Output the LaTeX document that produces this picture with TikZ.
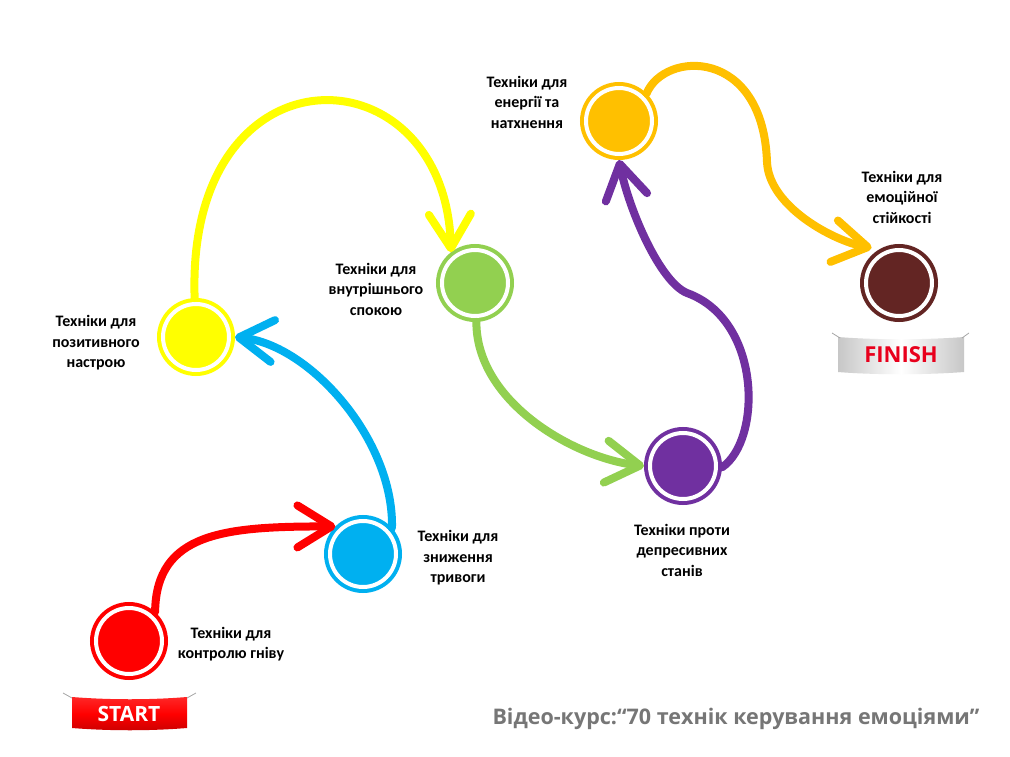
\documentclass[tikz,border=0pt]{standalone}
\usepackage{fontspec}
\setmainfont{Carlito}
\newfontfamily\titlefont{Open Sans}
\newfontfamily\banfont{Open Sans}
\usetikzlibrary{arrows.meta}
\definecolor{cRed}{HTML}{FF0000}
\definecolor{cBlue}{HTML}{00B0F0}
\definecolor{cYellow}{HTML}{FFFF00}
\definecolor{cGreen}{HTML}{92D050}
\definecolor{cPurple}{HTML}{7030A0}
\definecolor{cOrange}{HTML}{FFC000}
\definecolor{cBrown}{HTML}{632523}
\definecolor{cGrayText}{HTML}{767676}
\definecolor{cFinish}{HTML}{E8001C}
\tikzset{
  dot/.style={circle, minimum size=66pt, inner sep=0pt, outer sep=6pt,
    fill=#1, draw=white, line width=4pt, preaction={draw=#1, line width=12pt}},
  lbl/.style={align=center, inner sep=0pt, font=\fontsize{16}{20.5}\selectfont\bfseries},
  link/.style={draw=#1, line width=8pt, line cap=round, line join=round,
    -{Straight Barb[length=34pt, width=42pt, round]}},
  rope/.style={draw=black!35, line width=0.8pt},
}
\begin{document}
\begin{tikzpicture}[x=1pt, y=-1pt]
\useasboundingbox (0,0) rectangle (1010,757);
\fill[white] (0,0) rectangle (1010,757);

% circles
\node[dot=cRed]    (r)  at (129,641) {};
\node[dot=cBlue]   (b)  at (363,554) {};
\node[dot=cYellow] (y)  at (196,337) {};
\node[dot=cGreen]  (g)  at (475,283) {};
\node[dot=cPurple] (p)  at (683,466) {};
\node[dot=cOrange] (o)  at (619,121) {};
\node[dot=cBrown]  (br) at (899,283) {};

% labels
\node[lbl] (lr)  at (231,644) {Техніки для\\контролю гніву};
\node[lbl] (lb)  at (458,558) {Техніки для\\зниження\\тривоги};
\node[lbl] (ly)  at (96,343)  {Техніки для\\позитивного\\настрою};
\node[lbl] (lg)  at (376,289) {Техніки для\\внутрішнього\\спокою};
\node[lbl] (lp)  at (682,550) {Техніки проти\\депресивних\\станів};
\node[lbl] (lo)  at (527,102) {Техніки для\\енергії та\\натхнення};
\node[lbl] (lbr) at (902,197) {Техніки для\\емоційної\\стійкості};

% connectors
\coordinate (pw) at (687,293);
\coordinate (ow) at (767,162);
\draw[link=cRed] (r.48) .. controls +(1,-80) and +(-110,0) .. (b.135);
\draw[link=cBlue] (b.42) .. controls +(2,-88) and +(75,8) .. (y.0);
\draw[link=cYellow] (y.92) .. controls +(-9,-258) and +(-6,-205) .. (g.128);
\draw[link=cGreen] (g.272) .. controls +(0,80) and +(-70,-8) .. (p.180);
\draw[link=cPurple] (p.-2) .. controls +(40,-27) and +(75,27) .. (pw)
   .. controls +(-27,-11) and +(10,50) .. (o.270);
\draw[link=cOrange, shorten >=8pt] (o.45) .. controls +(18,-43) and +(-4,-115) .. (ow)
   .. controls +(2,45) and +(-45,-8) .. (br.120);

% START banner
\shade[top color=cRed!85!white, bottom color=cRed!80!black, middle color=cRed]
  (72,697) .. controls (110,700) and (150,700) .. (187,697) -- (187,728)
  .. controls (150,731) and (110,731) .. (72,728) -- cycle;
\draw[rope] (63,693) -- (72,698);
\draw[rope] (187,698) -- (196,693);
\node[text=white, font=\banfont\bfseries\fontsize{21}{21}\selectfont, inner sep=0pt] (st) at (129,714) {START};

% FINISH banner
\shade[left color=black!22, right color=black!22, middle color=white]
  (838,337) .. controls (875,340) and (925,340) .. (964,337) -- (964,372)
  .. controls (925,375) and (875,375) .. (838,372) -- cycle;
\draw[rope] (832,333) -- (840,338);
\draw[rope] (962,338) -- (969,333);
\node[text=cFinish, font=\banfont\bfseries\fontsize{22}{22}\selectfont, inner sep=0pt] (fi) at (901,355) {FINISH};

% title
\node[text=cGrayText, font=\titlefont\bfseries\fontsize{21.5}{21.5}\selectfont, inner sep=0pt] (title) at (736,719) {Відео-курс:“70 технік керування емоціями”};
\end{tikzpicture}
\end{document}
